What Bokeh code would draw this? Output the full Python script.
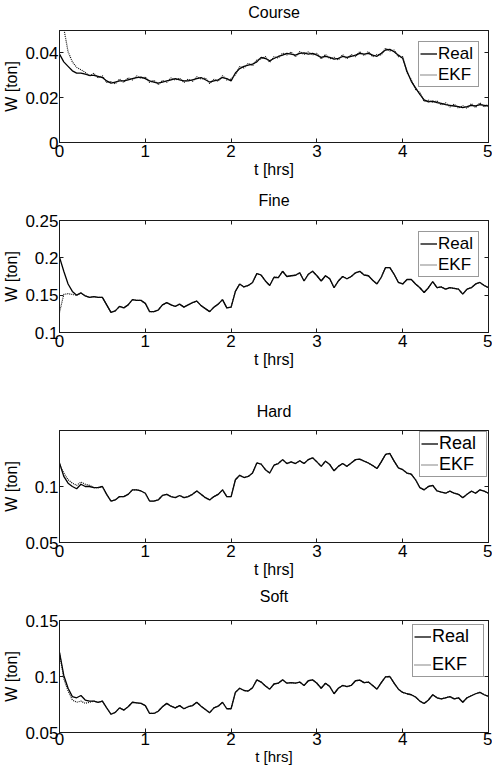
from bokeh.plotting import figure
from bokeh.layouts import column
from bokeh.models import (FixedTicker, NumeralTickFormatter, LinearAxis, Range1d,
                          Legend, LegendItem, CustomJSTickFormatter)
from bokeh.embed import file_html
from bokeh.resources import INLINE

FONT = "Liberation Sans"

# time axis: samples every 0.05 h from 0 to 5 h
T_HRS = [round(i * 0.05, 2) for i in range(101)]
X_TICKS = [0, 1, 2, 3, 4, 5]

COURSE_REAL = [
    0.0395, 0.036, 0.034, 0.032, 0.031, 0.031, 0.0305, 0.030, 0.030, 0.0295,
    0.029, 0.0275, 0.0265, 0.027, 0.0275, 0.0275, 0.028, 0.0285, 0.029, 0.0292,
    0.0285, 0.0275, 0.027, 0.0265, 0.027, 0.0275, 0.028, 0.0285, 0.028, 0.0275,
    0.0275, 0.028, 0.0285, 0.029, 0.028, 0.027, 0.0275, 0.028, 0.029, 0.0285,
    0.0275, 0.031, 0.033, 0.034, 0.0345, 0.035, 0.036, 0.038, 0.0375, 0.0365,
    0.0375, 0.0384, 0.039, 0.0398, 0.0395, 0.039, 0.0398, 0.040, 0.0395, 0.0398,
    0.039, 0.038, 0.0385, 0.038, 0.0372, 0.0376, 0.0384, 0.038, 0.0385, 0.039,
    0.0398, 0.0395, 0.0398, 0.039, 0.0385, 0.0398, 0.0413, 0.0416, 0.0405, 0.039,
    0.0376, 0.0318, 0.0273, 0.0244, 0.0215, 0.019, 0.0181, 0.0185, 0.0178, 0.0175,
    0.0169, 0.0166, 0.0163, 0.016, 0.0156, 0.016, 0.0166, 0.0163, 0.0169, 0.0166,
    0.0163,
]
COURSE_EKF = [
    0.068, 0.051, 0.0405, 0.036, 0.0335, 0.0325, 0.0313, 0.0296, 0.0309, 0.0288,
    0.0298, 0.0268, 0.0272, 0.0262, 0.0283, 0.0268, 0.0289, 0.0279, 0.0297, 0.0286,
    0.0292, 0.0268, 0.0278, 0.0258, 0.0277, 0.0269, 0.0288, 0.0279, 0.0287, 0.0268,
    0.0283, 0.0273, 0.0293, 0.0283, 0.0288, 0.0263, 0.0282, 0.0273, 0.0298, 0.0279,
    0.0283, 0.0303, 0.0339, 0.0333, 0.0353, 0.0343, 0.0369, 0.0373, 0.0384, 0.0358,
    0.0383, 0.0377, 0.0399, 0.0391, 0.0404, 0.0383, 0.0406, 0.0393, 0.0404, 0.0391,
    0.0398, 0.0373, 0.0393, 0.0374, 0.0380, 0.0369, 0.0392, 0.0374, 0.0393, 0.0383,
    0.0406, 0.0388, 0.0406, 0.0383, 0.0393, 0.0391, 0.0421, 0.0409, 0.0413, 0.0383,
    0.0384, 0.0311, 0.0281, 0.0237, 0.0223, 0.0183, 0.0189, 0.0178, 0.0186, 0.0168,
    0.0177, 0.0159, 0.0171, 0.0153, 0.0164, 0.0153, 0.0174, 0.0156, 0.0177, 0.0159,
    0.0171,
]

FINE_REAL = [
    0.201, 0.182, 0.165, 0.155, 0.150, 0.153, 0.149, 0.147, 0.148, 0.147,
    0.147, 0.137, 0.127, 0.129, 0.135, 0.133, 0.137, 0.144, 0.143, 0.143,
    0.139, 0.128, 0.128, 0.130, 0.137, 0.140, 0.137, 0.135, 0.138, 0.134,
    0.137, 0.140, 0.142, 0.136, 0.132, 0.128, 0.134, 0.138, 0.144, 0.133,
    0.134, 0.155, 0.165, 0.161, 0.163, 0.167, 0.179, 0.177, 0.169, 0.163,
    0.174, 0.1736, 0.182, 0.175, 0.176, 0.1767, 0.180, 0.169, 0.178, 0.182,
    0.176, 0.169, 0.176, 0.172, 0.160, 0.169, 0.175, 0.172, 0.175, 0.180,
    0.182, 0.177, 0.176, 0.170, 0.165, 0.174, 0.187, 0.187, 0.178, 0.167,
    0.165, 0.171, 0.171, 0.165, 0.160, 0.1536, 0.160, 0.168, 0.160, 0.161,
    0.158, 0.160, 0.159, 0.158, 0.1514, 0.158, 0.160, 0.165, 0.167, 0.163,
    0.160,
]
FINE_EKF = [0.127, 0.151, 0.152, 0.151, 0.150] + FINE_REAL[5:]

HARD_REAL = [
    0.121, 0.109, 0.103, 0.100, 0.098, 0.102, 0.100, 0.100, 0.099, 0.099,
    0.100, 0.093, 0.087, 0.088, 0.091, 0.091, 0.093, 0.097, 0.097, 0.096,
    0.094, 0.087, 0.087, 0.088, 0.092, 0.093, 0.091, 0.090, 0.092, 0.090,
    0.091, 0.093, 0.096, 0.093, 0.090, 0.088, 0.091, 0.093, 0.097, 0.091,
    0.091, 0.106, 0.110, 0.108, 0.109, 0.112, 0.121, 0.120, 0.115, 0.112,
    0.119, 0.1205, 0.124, 0.1205, 0.122, 0.1205, 0.123, 0.1205, 0.124, 0.1256,
    0.122, 0.118, 0.1226, 0.1196, 0.114, 0.118, 0.1205, 0.118, 0.121, 0.124,
    0.1244, 0.1226, 0.121, 0.1187, 0.116, 0.122, 0.1286, 0.1295, 0.1226, 0.1167,
    0.115, 0.112, 0.111, 0.106, 0.099, 0.097, 0.100, 0.101, 0.096, 0.095,
    0.094, 0.0958, 0.094, 0.093, 0.090, 0.093, 0.0958, 0.094, 0.097, 0.0958,
    0.094,
]
HARD_EKF = [0.120, 0.112, 0.106, 0.103, 0.101, 0.104, 0.102, 0.101] + HARD_REAL[8:]

SOFT_REAL = [
    0.1215, 0.101, 0.0895, 0.082, 0.081, 0.083, 0.079, 0.078, 0.078, 0.077,
    0.078, 0.072, 0.0663, 0.068, 0.072, 0.070, 0.073, 0.077, 0.0765, 0.076,
    0.074, 0.067, 0.067, 0.069, 0.073, 0.076, 0.0735, 0.072, 0.074, 0.0712,
    0.073, 0.074, 0.077, 0.0735, 0.0706, 0.0677, 0.072, 0.0735, 0.077, 0.0712,
    0.0712, 0.0858, 0.0895, 0.0875, 0.087, 0.090, 0.097, 0.095, 0.0916, 0.0887,
    0.0933, 0.094, 0.097, 0.094, 0.0945, 0.094, 0.095, 0.092, 0.0962, 0.097,
    0.094, 0.0895, 0.094, 0.091, 0.0846, 0.0895, 0.092, 0.091, 0.092, 0.0962,
    0.0968, 0.0945, 0.095, 0.092, 0.0887, 0.0945, 0.0997, 0.100, 0.094, 0.0887,
    0.0858, 0.0846, 0.0837, 0.0817, 0.078, 0.0759, 0.079, 0.0837, 0.081, 0.080,
    0.081, 0.082, 0.080, 0.081, 0.077, 0.081, 0.0828, 0.0846, 0.0858, 0.0837,
    0.0823,
]
SOFT_EKF = [0.121, 0.098, 0.087, 0.079, 0.077, 0.078, 0.076, 0.077] + SOFT_REAL[8:]

FRAME_W = 429
FRAME_H = 112

PANELS = [
    dict(title="Course", real=COURSE_REAL, ekf=COURSE_EKF, ylim=(0, 0.05),
         yticks=[0, 0.02, 0.04], top=29, bottom=45, tgap=10,
         leg_loc=(359, 55), leg_margin=0, leg_font="17px", leg_lw=39, leg_sp=0,
         xl_font="16px", xt_stand=2, xl_stand=1),
    dict(title="Fine", real=FINE_REAL, ekf=FINE_EKF, ylim=(0.1, 0.25),
         yticks=[0.1, 0.15, 0.2, 0.25], top=33, bottom=65, tgap=12,
         leg_loc=(359, 55), leg_margin=0, leg_font="17px", leg_lw=39, leg_sp=0,
         xl_font="16px", xt_stand=2, xl_stand=1),
    dict(title="Hard", real=HARD_REAL, ekf=HARD_EKF, ylim=(0.05, 0.15),
         yticks=[0.05, 0.1], top=33, bottom=41, tgap=11,
         leg_loc="top_right", leg_margin=1, leg_font="18px", leg_lw=46, leg_sp=0,
         xl_font="16px", xt_stand=2, xl_stand=1),
    dict(title="Soft", real=SOFT_REAL, ekf=SOFT_EKF, ylim=(0.05, 0.15),
         yticks=[0.05, 0.1, 0.15], top=37, bottom=36, tgap=16,
         leg_loc="top_right", leg_margin=4, leg_font="18px", leg_lw=50, leg_sp=7,
         xl_font="15px", xt_stand=0, xl_stand=0),
]

INK = "#1a1a1a"


def style_axis(ax, ticks):
    ax.ticker = FixedTicker(ticks=ticks)
    ax.major_tick_in = 4
    ax.major_tick_out = 0
    ax.minor_tick_line_color = None
    ax.axis_line_color = INK
    ax.major_tick_line_color = INK


def make_panel(cfg):
    p = figure(output_backend="svg", toolbar_location=None,
               frame_width=FRAME_W, frame_height=FRAME_H,
               x_range=Range1d(0, 5), y_range=Range1d(*cfg["ylim"]),
               min_border_left=59, min_border_right=4,
               min_border_top=cfg["top"], min_border_bottom=cfg["bottom"],
               x_axis_label="t [hrs]", y_axis_label="W [ton]")
    p.grid.visible = False
    p.outline_line_color = INK
    p.outline_line_alpha = 1
    p.background_fill_color = "white"
    p.border_fill_color = "white"

    style_axis(p.xaxis[0], X_TICKS)
    style_axis(p.yaxis[0], cfg["yticks"])
    for ax in (p.xaxis[0], p.yaxis[0]):
        ax.major_label_text_font = FONT
        ax.major_label_text_font_size = "17px"
        ax.major_label_text_color = "black"
        ax.axis_label_text_font = FONT
        ax.axis_label_text_font_style = "normal"
        ax.axis_label_text_color = "black"
    p.xaxis[0].axis_label_text_font_size = cfg["xl_font"]
    p.yaxis[0].axis_label_text_font_size = "16px"
    p.xaxis[0].major_label_standoff = cfg["xt_stand"]
    p.xaxis[0].axis_label_standoff = cfg["xl_stand"]
    p.yaxis[0].major_label_standoff = 1
    p.yaxis[0].axis_label_standoff = 2
    p.yaxis[0].formatter = NumeralTickFormatter(format="0.[00]")

    blank = "return ''"
    right = LinearAxis(formatter=CustomJSTickFormatter(code=blank),
                       major_label_standoff=0)
    style_axis(right, cfg["yticks"])
    p.add_layout(right, "right")

    # top box axis: its label carries the panel title
    top = LinearAxis(formatter=CustomJSTickFormatter(code=blank),
                     major_label_standoff=0, axis_label=cfg["title"],
                     axis_label_standoff=cfg["tgap"],
                     axis_label_text_font=FONT, axis_label_text_font_size="16px",
                     axis_label_text_font_style="normal",
                     axis_label_text_color="black")
    style_axis(top, X_TICKS)
    p.add_layout(top, "above")

    r_real = p.line(T_HRS, cfg["real"], line_color="black", line_width=1.3)
    r_ekf = p.line(T_HRS, cfg["ekf"], line_color="#111111", line_width=1.2,
                   line_dash="1 1")

    leg = Legend(items=[LegendItem(label="Real", renderers=[r_real]),
                        LegendItem(label="EKF", renderers=[r_ekf])],
                 location=cfg["leg_loc"], margin=cfg["leg_margin"], padding=1,
                 spacing=cfg["leg_sp"], glyph_width=17,
                 glyph_height=21, label_height=21, label_width=cfg["leg_lw"],
                 label_standoff=1, label_text_font=FONT,
                 label_text_font_size=cfg["leg_font"], label_text_color="black",
                 border_line_color="#333333", border_line_width=1,
                 background_fill_color="white", background_fill_alpha=1)
    p.add_layout(leg)
    return p


figs = [make_panel(c) for c in PANELS]
layout = column(*figs, spacing=0)

open("out.html", "w").write(file_html(layout, INLINE, title="W estimates"))
